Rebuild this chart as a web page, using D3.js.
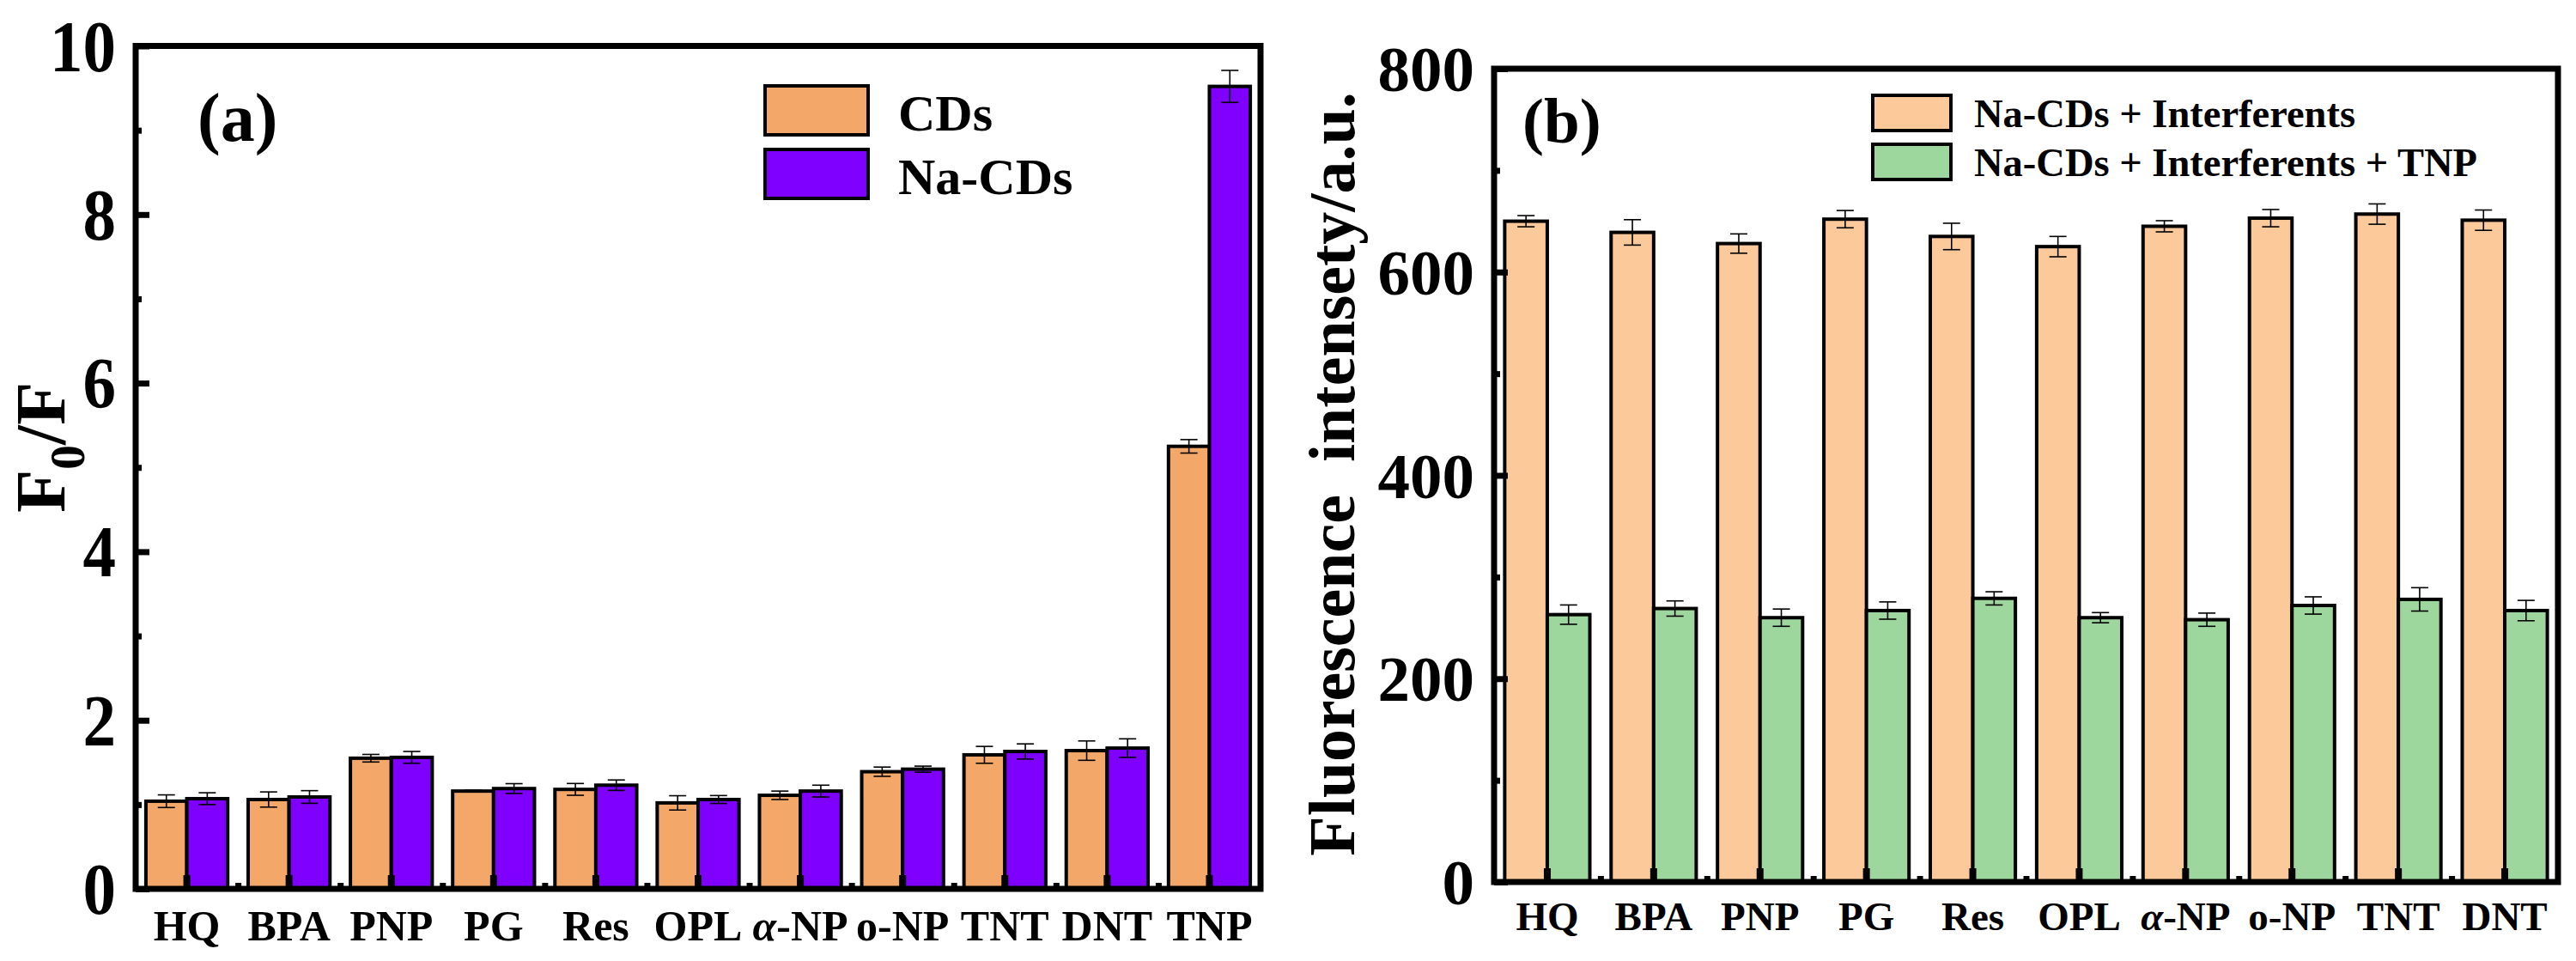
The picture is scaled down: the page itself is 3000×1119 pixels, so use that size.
<!DOCTYPE html>
<html>
<head>
<meta charset="utf-8">
<script src="https://cdn.jsdelivr.net/npm/d3@7"></script>
<style>
body { margin: 0; background: #fff; }
svg text { font-family: "Liberation Serif", "Times New Roman", serif; font-weight: bold; fill: #000; }
</style>
</head>
<body>
<script>
var w = 3000;
var h = 1119;

// panel (a) data
var catsA = ["HQ", "BPA", "PNP", "PG", "Res", "OPL", "α-NP", "o-NP", "TNT", "DNT", "TNP"];
var cdsVals = [1.04, 1.06, 1.55, 1.16, 1.18, 1.02, 1.11, 1.39, 1.59, 1.64, 5.25];
var cdsErr  = [0.075, 0.09, 0.045, 0.01, 0.07, 0.085, 0.05, 0.055, 0.10, 0.115, 0.08];
var naVals  = [1.07, 1.09, 1.56, 1.19, 1.23, 1.06, 1.16, 1.42, 1.63, 1.67, 9.52];
var naErr   = [0.07, 0.075, 0.07, 0.058, 0.062, 0.047, 0.07, 0.036, 0.09, 0.11, 0.19];
var ticksA = [0, 2, 4, 6, 8, 10];
var minorA = [1, 3, 5, 7, 9];

// panel (b) data
var catsB = ["HQ", "BPA", "PNP", "PG", "Res", "OPL", "α-NP", "o-NP", "TNT", "DNT"];
var interfVals = [650, 639, 628, 652, 635, 625, 645, 653, 657, 651];
var interfErr  = [5.5, 12.5, 9.5, 8.5, 13, 10, 5.5, 8.5, 10, 10];
var tnpVals    = [263, 269, 260, 267, 279, 260, 258, 272, 278, 267];
var tnpErr     = [9.5, 7.5, 8.5, 8.5, 6.5, 5, 6.5, 8.5, 11.5, 10];
var ticksB = [0, 200, 400, 600, 800];
var minorB = [100, 300, 500, 700];

var svg = d3.select("body")
            .append("svg")
            .attr("width", w)
            .attr("height", h)
            .style("background", "#fff");

function catLabel(sel) {
        // greek alpha is italic in the original
        sel.each(function(d) {
                var t = d3.select(this);
                t.text(null);
                if (d.charAt(0) == "α") {
                        t.append("tspan").style("font-style", "italic").text("α");
                        t.append("tspan").text(d.slice(1));
                } else {
                        t.text(d);
                }
        });
}

function drawPanel(p) {
        var x = d3.scaleBand().domain(p.cats).range(p.xr).paddingInner(0.2).paddingOuter(0.1);
        var y = d3.scaleLinear().domain(p.yd).range(p.yr);
        var g = svg.append("g");
        var bw = x.bandwidth() / 2;

        var series = [
                {vals: p.v1, err: p.e1, color: p.c1, off: 0},
                {vals: p.v2, err: p.e2, color: p.c2, off: bw}
        ];

        series.forEach(function(s) {
                var rows = p.cats.map(function(c, i) { return {c: c, v: s.vals[i], e: s.err[i]}; });
                g.append("g").selectAll("rect")
                   .data(rows)
                   .enter()
                   .append("rect")
                   .attr("x", d => x(d.c) + s.off)
                   .attr("y", d => y(d.v))
                   .attr("width", bw)
                   .attr("height", d => y(0) - y(d.v))
                   .attr("fill", s.color)
                   .attr("stroke", "#000")
                   .attr("stroke-width", 4);

                var eb = g.append("g").attr("stroke", "#000").attr("stroke-width", 1.6);
                rows.forEach(function(d) {
                        var cx = x(d.c) + s.off + bw / 2;
                        eb.append("line").attr("x1", cx).attr("x2", cx).attr("y1", y(d.v - d.e)).attr("y2", y(d.v + d.e));
                        eb.append("line").attr("x1", cx - 10).attr("x2", cx + 10).attr("y1", y(d.v - d.e)).attr("y2", y(d.v - d.e));
                        eb.append("line").attr("x1", cx - 10).attr("x2", cx + 10).attr("y1", y(d.v + d.e)).attr("y2", y(d.v + d.e));
                });
        });

        // y axis, ticks pointing inward
        var yAx = g.append("g")
           .attr("transform", "translate(" + p.xr[0] + ",0)")
           .call(d3.axisLeft(y).tickValues(p.ticks).tickSize(-16).tickPadding(p.tickPad));
        yAx.select(".domain").remove();
        yAx.selectAll("line").attr("stroke-width", 7);
        yAx.selectAll("text")
           .attr("font-size", p.tickFont)
           .attr("dy", "0.34em");
        if (p.tickChar) {
                yAx.selectAll("text")
                   .attr("textLength", d => String(d).length * p.tickChar)
                   .attr("lengthAdjust", "spacingAndGlyphs");
        }

        var yMin = g.append("g")
           .attr("transform", "translate(" + p.xr[0] + ",0)")
           .call(d3.axisLeft(y).tickValues(p.minor).tickSize(-7).tickFormat(""));
        yMin.select(".domain").remove();
        yMin.selectAll("line").attr("stroke-width", 7);

        // x axis
        var y0 = p.yr[0];
        var xAx = g.append("g")
           .attr("transform", "translate(0," + y0 + ")")
           .call(d3.axisBottom(x).tickSize(-16));
        xAx.select(".domain").remove();
        xAx.selectAll("line").attr("stroke-width", 8);
        xAx.selectAll("text")
           .attr("font-size", p.catFont)
           .attr("y", p.catY)
           .attr("dy", null)
           .call(catLabel);

        var xm = d3.scaleLinear().domain([0, p.cats.length]).range(p.xr);
        var xMin = g.append("g")
           .attr("transform", "translate(0," + y0 + ")")
           .call(d3.axisBottom(xm).tickValues(d3.range(1, p.cats.length)).tickSize(-7).tickFormat(""));
        xMin.select(".domain").remove();
        xMin.selectAll("line").attr("stroke-width", 7);

        // frame
        g.append("rect")
           .attr("x", p.xr[0])
           .attr("y", p.yr[1])
           .attr("width", p.xr[1] - p.xr[0])
           .attr("height", p.yr[0] - p.yr[1])
           .attr("fill", "none")
           .attr("stroke", "#000")
           .attr("stroke-width", 7);

        // panel tag
        g.append("text").attr("x", p.tag[0]).attr("y", p.tag[1])
           .attr("font-size", p.tag[2]).text(p.tagText);

        // legend
        var lg = g.append("g");
        [p.n1, p.n2].forEach(function(name, i) {
                var L = p.leg;
                lg.append("rect")
                   .attr("x", L.x).attr("y", L.y + i * L.dy)
                   .attr("width", L.w).attr("height", L.h)
                   .attr("fill", i == 0 ? p.c1 : p.c2)
                   .attr("stroke", "#000").attr("stroke-width", 4);
                lg.append("text")
                   .attr("x", L.tx).attr("y", L.ty + i * L.dy)
                   .attr("font-size", L.font)
                   .style("white-space", "pre")
                   .text(name);
        });
}

drawPanel({
        cats: catsA, v1: cdsVals, e1: cdsErr, v2: naVals, e2: naErr,
        c1: "#F3A869", c2: "#8000FF", n1: "CDs", n2: "Na-CDs",
        xr: [158, 1468], yr: [1035, 53.5], yd: [0, 10],
        ticks: ticksA, minor: minorA, tickPad: 23, tickFont: 84, tickChar: 38.5,
        catFont: 50, catY: 60,
        tag: [230, 164, 80], tagText: "(a)",
        leg: {x: 891, y: 100, w: 120, h: 57, dy: 74, tx: 1046, ty: 152, font: 60}
});

drawPanel({
        cats: catsB, v1: interfVals, e1: interfErr, v2: tnpVals, e2: tnpErr,
        c1: "#FBC99A", c2: "#9ED79D", n1: "Na-CDs + Interferents", n2: "Na-CDs + Interferents + TNP",
        xr: [1740, 2979], yr: [1027, 80], yd: [0, 800],
        ticks: ticksB, minor: minorB, tickPad: 23, tickFont: 75, tickChar: 0,
        catFont: 47, catY: 56,
        tag: [1773, 166, 75], tagText: "(b)",
        leg: {x: 2181, y: 111, w: 91, h: 41, dy: 57, tx: 2299, ty: 148, font: 46.5}
});

// axis titles
var ta = svg.append("text")
   .attr("transform", "translate(75,521) rotate(-90)")
   .attr("text-anchor", "middle")
   .attr("font-size", 82);
ta.append("tspan").text("F");
ta.append("tspan").attr("font-size", 58).attr("dy", 23).text("0");
ta.append("tspan").attr("dy", -23).text("/F");

svg.append("text")
   .attr("transform", "translate(1577,552) rotate(-90)")
   .attr("text-anchor", "middle")
   .attr("font-size", 76)
   .style("white-space", "pre")
   .text("Fluorescence  intensety/a.u.");
</script>
</body>
</html>
